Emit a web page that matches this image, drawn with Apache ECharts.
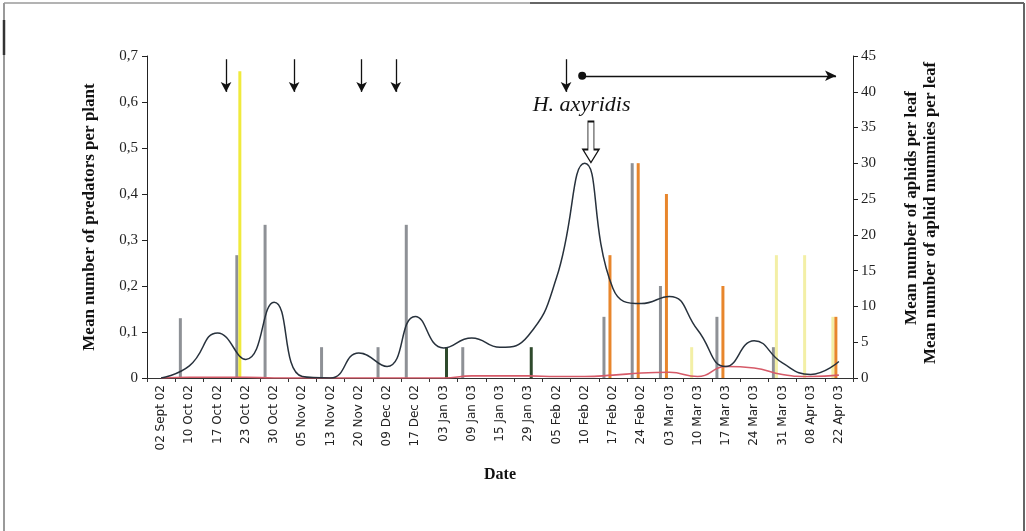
<!DOCTYPE html>
<html>
<head>
<meta charset="utf-8">
<script src="https://cdn.jsdelivr.net/npm/echarts@6/dist/echarts.min.js"></script>
<style>
html,body{margin:0;padding:0;background:#fff;}
#chart{width:1026px;height:531px;}
</style>
</head>
<body>
<div id="chart"></div>
<script>
// ---- categories ----
const dates = ['02 Sept 02','10 Oct 02','17 Oct 02','23 Oct 02','30 Oct 02','05 Nov 02','13 Nov 02','20 Nov 02',
  '09 Dec 02','17 Dec 02','03 Jan 03','09 Jan 03','15 Jan 03','29 Jan 03','05 Feb 02','10 Feb 02','17 Feb 02',
  '24 Feb 02','03 Mar 03','10 Mar 03','17 Mar 03','24 Mar 03','31 Mar 03','08 Apr 03','22 Apr 03'];

// ---- predators per plant (left axis) ----
const predGrey   = [null,0.13,null,0.267,0.333,null,0.067,null,0.067,0.333,null,0.067,null,null,null,null,0.133,0.467,0.2,null,0.133,null,0.067,null,null];
const predYellow = [null,null,null,0.667,null,null,null,null,null,null,null,null,null,null,null,null,null,null,null,0.067,null,null,0.267,0.267,0.133];
const predOrange = [null,null,null,null,null,null,null,null,null,null,null,null,null,null,null,null,0.267,0.467,0.4,null,0.2,null,null,null,0.133];
const predGreen  = [null,null,null,null,null,null,null,null,null,null,0.067,null,null,0.067,null,null,null,null,null,null,null,null,null,null,null];
const predEmpty  = [];

// ---- aphids and mummies per leaf (right axis) ----
const aphids  = [0,1.7,6.3,2.6,10.6,0.2,0,3.5,1.6,8.6,4.2,5.6,4.3,5.9,14,30,12.5,10.4,11.4,6.7,1.6,5.2,2.1,0.5,2.3];
const mummies = [0,0.1,0.1,0.1,0,0,0,0,0,0,0,0.3,0.3,0.3,0.2,0.2,0.4,0.7,0.8,0.2,1.6,1.4,0.5,0.2,0.4];

// ---- tick labels ----
const leftTicks  = [0,0.1,0.2,0.3,0.4,0.5,0.6,0.7];
const rightTicks = [0,5,10,15,20,25,30,35,40,45];

// ---- annotations (position in category units, left-axis value) ----
const dropArrowsX = [2.8,5.21,7.6,8.81,14.84];
const dropArrowY = [0.693,0.622];
const periodArrow = {x0:15.41, x1:24.40, y:0.657};
const hollowArrow = {x:15.72, y:0.513};
const speciesLabel = {x:15.39, y:0.593, text:'H. axyridis'};

const serif = "'Liberation Serif','DejaVu Serif',serif";
const chart = echarts.init(document.getElementById('chart'), null, {renderer:'canvas'});

const markLines = dropArrowsX.map(x => [
  {coord:[x, dropArrowY[0]], symbol:'none'},
  {coord:[x, dropArrowY[1]], symbol:'arrow', symbolSize:[8,10]}
]);
markLines.push([
  {coord:[periodArrow.x0, periodArrow.y], symbol:'circle', symbolSize:8},
  {coord:[periodArrow.x1, periodArrow.y], symbol:'arrow', symbolSize:[8,11]}
]);

function barSeries(name, data, color){
  return {
    name, type:'bar', data, xAxisIndex:0, yAxisIndex:0,
    barWidth:3, barGap:'0%', silent:true,
    itemStyle:{color}
  };
}

const option = {
  animation:false,
  backgroundColor:'#ffffff',
  grid:{left:147, right:173, top:56, bottom:153, containLabel:false},
  xAxis:[{
    type:'category', data:dates, boundaryGap:true,
    name:'Date', nameLocation:'middle', nameGap:89,
    nameTextStyle:{fontFamily:serif, fontWeight:'bold', fontSize:16, color:'#111'},
    axisLine:{lineStyle:{color:'#333', width:1}},
    axisTick:{show:true, length:4, lineStyle:{color:'#333'}},
    axisLabel:{rotate:90, interval:0, margin:7, fontFamily:"'DejaVu Sans',sans-serif", fontSize:12, color:'#222'},
    splitLine:{show:false}
  },{
    type:'value', min:0, max:25, show:false
  }],
  yAxis:[{
    type:'value', min:0, max:0.7, interval:0.1, position:'left',
    name:'Mean number of predators per plant', nameLocation:'middle', nameGap:49, nameRotate:90,
    nameTextStyle:{fontFamily:serif, fontWeight:'bold', fontSize:17, color:'#111'},
    axisLine:{show:true, lineStyle:{color:'#222', width:1}},
    axisTick:{show:true, length:5, lineStyle:{color:'#222'}},
    axisLabel:{margin:9, fontFamily:serif, fontSize:15, color:'#222',
      formatter:v => { const t = leftTicks.find(k => Math.abs(k - v) < 1e-6); return t === 0 ? '0' : String(t).replace('.', ','); }},
    splitLine:{show:false}
  },{
    type:'value', min:0, max:45, interval:5, position:'right',
    axisLine:{show:true, lineStyle:{color:'#222', width:1}},
    axisTick:{show:true, length:5, lineStyle:{color:'#222'}},
    axisLabel:{margin:8, fontFamily:serif, fontSize:15, color:'#222',
      formatter:v => String(rightTicks.find(k => Math.abs(k - v) < 1e-6))},
    splitLine:{show:false}
  }],
  series:[
    barSeries('grey', predGrey, '#8e9196'),
    {
      name:'yellow', type:'bar', data:predYellow, xAxisIndex:0, yAxisIndex:0,
      barWidth:3, barGap:'0%', silent:true,
      itemStyle:{color:p => p.dataIndex < 10 ? '#f0ea3c' : '#f3efa6'}
    },
    barSeries('orange', predOrange, '#e8862c'),
    barSeries('empty1', predEmpty, '#cccccc'),
    barSeries('green', predGreen, '#2f4a2c'),
    barSeries('empty2', predEmpty, '#cccccc'),
    barSeries('empty3', predEmpty, '#cccccc'),
    {
      name:'mummies', type:'line', data:mummies, xAxisIndex:0, yAxisIndex:1,
      smooth:0.5, showSymbol:false, silent:true, z:3,
      lineStyle:{color:'#d65a68', width:1.6}
    },
    {
      name:'aphids', type:'line', data:aphids, xAxisIndex:0, yAxisIndex:1,
      smooth:0.5, showSymbol:false, silent:true, z:4,
      lineStyle:{color:'#27313c', width:1.5}
    },
    {
      name:'annotations', type:'scatter', data:[], xAxisIndex:1, yAxisIndex:0, silent:true, z:5,
      markLine:{
        silent:true, animation:false,
        lineStyle:{color:'#111', width:1.3, type:'solid'},
        label:{show:false},
        emphasis:{disabled:true},
        data:markLines
      },
      markPoint:{
        silent:true, animation:false,
        data:[
          {coord:[hollowArrow.x, hollowArrow.y],
           symbol:'path://M5,0 L11,0 L11,28 L16,28 L8,41 L0,28 L5,28 Z',
           symbolSize:[16,41], symbolKeepAspect:false,
           itemStyle:{color:'#ffffff', borderColor:'#111', borderWidth:1.3},
           label:{show:false}},
          {coord:[speciesLabel.x, speciesLabel.y], symbol:'circle', symbolSize:0,
           label:{show:true, position:'inside', formatter:speciesLabel.text,
             fontFamily:serif, fontStyle:'italic', fontSize:22, color:'#111'}}
        ]
      }
    }
  ],
  graphic:[
    {type:'text', x:912, y:208, rotation:Math.PI/2, silent:true,
     style:{text:'Mean number of aphids per leaf', fontFamily:serif, fontWeight:'bold', fontSize:17,
       fill:'#111', align:'center', verticalAlign:'middle'}},
    {type:'text', x:931, y:213, rotation:Math.PI/2, silent:true,
     style:{text:'Mean number of aphid mummies per leaf', fontFamily:serif, fontWeight:'bold', fontSize:17,
       fill:'#111', align:'center', verticalAlign:'middle'}},
    {type:'line', silent:true, shape:{x1:4, y1:3, x2:4, y2:531}, style:{stroke:'#9a9a9a', lineWidth:2}},
    {type:'line', silent:true, shape:{x1:4, y1:20, x2:4, y2:55}, style:{stroke:'#333', lineWidth:2.5}},
    {type:'line', silent:true, shape:{x1:4, y1:3, x2:530, y2:3}, style:{stroke:'#9a9a9a', lineWidth:1.5}},
    {type:'line', silent:true, shape:{x1:530, y1:3, x2:1024, y2:3}, style:{stroke:'#666', lineWidth:2}},
    {type:'line', silent:true, shape:{x1:1024, y1:3, x2:1024, y2:531}, style:{stroke:'#666', lineWidth:2}}
  ]
};
chart.setOption(option);
</script>
</body>
</html>
